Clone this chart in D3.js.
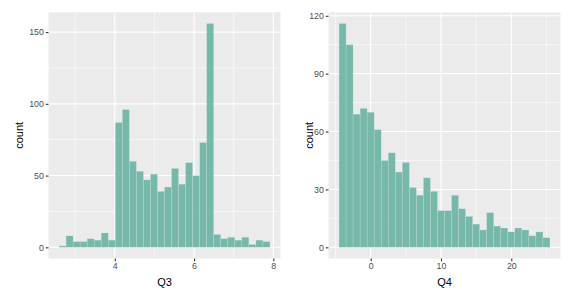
<!DOCTYPE html>
<html><head><meta charset="utf-8">
<script src="https://cdn.jsdelivr.net/npm/d3@7"></script>
<style>body{margin:0;background:#fff}svg{display:block}</style>
</head><body>
<svg id="chart" width="573" height="300"></svg>
<script>
// Data
const q3Start = 2.593, q3Width = 0.1774;
const q3Counts = [1,8,4,4,6,5,10,5,87,96,60,53,47,51,39,42,55,44,59,50,73,156,9,6,7,5,7,2,5,4];
const q3XTicks = [4,6,8], q3XMinor = [3,5,7];
const q3YTicks = [0,50,100,150], q3YMinor = [25,75,125];

const q4Start = -4.5, q4Width = 1;
const q4Counts = [116,105,69,72,70,61,45,49,39,44,31,27,36,29,19,19,27,20,16,12,9,18,11,10,8,10,9,6,8,5];
const q4XTicks = [0,10,20], q4XMinor = [-5,5,15,25];
const q4YTicks = [0,30,60,90,120], q4YMinor = [15,45,75,105];

const svg = d3.select("#chart");
const font = "'Liberation Sans', Arial, Helvetica, sans-serif";

function panel(opt) {
  const {x0, x1, y0, y1, start, width, counts, xt, xm, yt, ym, xlabel, titleX} = opt;
  const n = counts.length;
  const lo = start, hi = start + width * n;
  const ex = (hi - lo) * 0.05;
  const ymax = d3.max(counts), ey = ymax * 0.05;
  const x = d3.scaleLinear().domain([lo - ex, hi + ex]).range([x0, x1]);
  const y = d3.scaleLinear().domain([-ey, ymax + ey]).range([y1, y0]);
  const g = svg.append("g");
  g.append("rect").attr("x", x0).attr("y", y0).attr("width", x1 - x0).attr("height", y1 - y0).attr("fill", "#EBEBEB");
  // minor grid
  g.selectAll(".vm").data(xm).join("line").attr("x1", d => x(d)).attr("x2", d => x(d)).attr("y1", y0).attr("y2", y1).attr("stroke", "#fff").attr("stroke-width", 0.55);
  g.selectAll(".hm").data(ym).join("line").attr("y1", d => y(d)).attr("y2", d => y(d)).attr("x1", x0).attr("x2", x1).attr("stroke", "#fff").attr("stroke-width", 0.55);
  // major grid
  g.selectAll(".vM").data(xt).join("line").attr("x1", d => x(d)).attr("x2", d => x(d)).attr("y1", y0).attr("y2", y1).attr("stroke", "#fff").attr("stroke-width", 1.1);
  g.selectAll(".hM").data(yt).join("line").attr("y1", d => y(d)).attr("y2", d => y(d)).attr("x1", x0).attr("x2", x1).attr("stroke", "#fff").attr("stroke-width", 1.1);
  // bars
  g.selectAll(".bar").data(counts).join("rect")
    .attr("x", (d, i) => x(start + i * width))
    .attr("width", (d, i) => x(start + (i + 1) * width) - x(start + i * width))
    .attr("y", d => y(d))
    .attr("height", d => y(0) - y(d))
    .attr("fill", "#69b3a2").attr("fill-opacity", 0.9)
    .attr("stroke", "#e9ecef").attr("stroke-opacity", 0.35).attr("stroke-width", 0.6);
  // axes
  const xa = g.append("g").attr("transform", `translate(0,${y1})`)
    .call(d3.axisBottom(x).tickValues(xt).tickSize(2.7).tickPadding(2).tickFormat(d3.format("d")));
  const ya = g.append("g").attr("transform", `translate(${x0},0)`)
    .call(d3.axisLeft(y).tickValues(yt).tickSize(2.7).tickPadding(2).tickFormat(d3.format("d")));
  [xa, ya].forEach(a => {
    a.select(".domain").remove();
    a.selectAll(".tick line").attr("stroke", "#333333").attr("stroke-width", 1.1);
    a.selectAll(".tick text").attr("fill", "#4D4D4D").style("font-family", font).style("font-size", "8.8px");
  });
  g.append("text").attr("x", (x0 + x1) / 2).attr("y", 286).attr("text-anchor", "middle")
    .style("font-family", font).style("font-size", "11px").attr("fill", "#000").text(xlabel);
  g.append("text").attr("transform", `translate(${titleX},${(y0 + y1) / 2}) rotate(-90)`).attr("text-anchor", "middle")
    .style("font-family", font).style("font-size", "11px").attr("fill", "#000").text("count");
}

panel({x0: 48.5, x1: 280.5, y0: 12.3, y1: 258.5, start: q3Start, width: q3Width, counts: q3Counts,
  xt: q3XTicks, xm: q3XMinor, yt: q3YTicks, ym: q3YMinor, xlabel: "Q3", titleX: 22.5});
panel({x0: 328.5, x1: 560.5, y0: 12.3, y1: 258.5, start: q4Start, width: q4Width, counts: q4Counts,
  xt: q4XTicks, xm: q4XMinor, yt: q4YTicks, ym: q4YMinor, xlabel: "Q4", titleX: 312.5});
</script>
</body></html>
